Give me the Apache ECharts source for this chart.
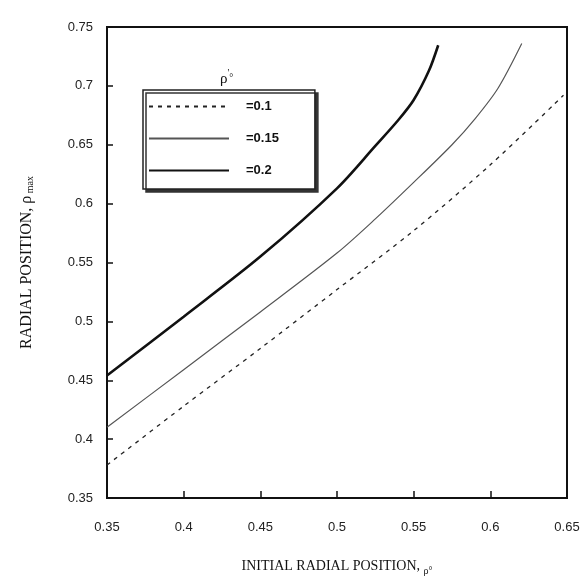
<!DOCTYPE html>
<html>
<head>
<meta charset="utf-8">
<script src="https://cdn.jsdelivr.net/npm/echarts@6/dist/echarts.min.js"></script>
<style>
  html, body { margin: 0; padding: 0; background: #fff; }
  #chart { width: 588px; height: 584px; }
</style>
</head>
<body>
<div id="chart"></div>
<script>
// 曲线数据 (初始位置, 径向位置)
const x01 = [0.35, 0.40, 0.45, 0.50, 0.55, 0.60, 0.6477]
const y01 = [0.378, 0.428, 0.477, 0.527, 0.577, 0.633, 0.692]

const x015 = [0.35, 0.40, 0.45, 0.50, 0.525, 0.55, 0.575, 0.59, 0.605, 0.6205]
const y015 = [0.410, 0.459, 0.508, 0.558, 0.587, 0.618, 0.650, 0.672, 0.698, 0.736]

const x02 = [0.35, 0.40, 0.45, 0.50, 0.525, 0.54, 0.55, 0.56, 0.566]
const y02 = [0.454, 0.504, 0.555, 0.613, 0.649, 0.671, 0.688, 0.713, 0.7345]

const seriesNames = ['=0.1', '=0.15', '=0.2']

const pair = (xs, ys) => xs.map((x, i) => [x, ys[i]])

const chart = echarts.init(document.getElementById('chart'))

const serif = '"Liberation Serif", "DejaVu Serif", serif'
const sans = '"Liberation Sans", Arial, sans-serif'

const option = {
  backgroundColor: '#fff',
  animation: false,
  grid: {
    left: 107, right: 21, top: 27, bottom: 86,
    show: true,
    borderColor: '#111',
    borderWidth: 2
  },
  legend: {
    orient: 'vertical',
    left: 143,
    top: 90,
    itemWidth: 80,
    itemHeight: 14,
    itemGap: 19,
    padding: [10, 36, 12, 5],
    borderColor: '#222',
    borderWidth: 1.5,
    backgroundColor: '#fff',
    shadowColor: '#333',
    shadowOffsetX: 3,
    shadowOffsetY: 3,
    shadowBlur: 0,
    itemStyle: { opacity: 0 },
    textStyle: { fontFamily: sans, fontSize: 13, fontWeight: 'bold', color: '#111', padding: [0, 0, 0, 12] },
    data: seriesNames
  },
  xAxis: {
    type: 'value',
    min: 0.35,
    max: 0.65,
    interval: 0.05,
    name: '{n|INITIAL RADIAL POSITION, }{s|ρ°}',
    nameLocation: 'middle',
    nameGap: 58,
    nameTextStyle: {
      rich: {
        n: { fontFamily: serif, fontSize: 14, color: '#111' },
        s: { fontFamily: serif, fontSize: 10, color: '#111', padding: [10, 0, 0, 0] }
      }
    },
    axisLine: { show: true, lineStyle: { color: '#111', width: 2 } },
    axisTick: { show: true, inside: true, length: 7, lineStyle: { color: '#111', width: 1.5 } },
    axisLabel: {
      margin: 23,
      fontFamily: sans,
      fontSize: 13,
      color: '#222',
      formatter: (v) => String(Math.round(v * 100) / 100)
    },
    splitLine: { show: false }
  },
  yAxis: {
    type: 'value',
    min: 0.35,
    max: 0.75,
    interval: 0.05,
    name: '{n|RADIAL POSITION, ρ}{s| max}',
    nameLocation: 'middle',
    nameGap: 72,
    nameTextStyle: {
      rich: {
        n: { fontFamily: serif, fontSize: 16, color: '#111' },
        s: { fontFamily: serif, fontSize: 10, color: '#111', padding: [6, 0, 0, 0] }
      }
    },
    axisLine: { show: true, lineStyle: { color: '#111', width: 2 } },
    axisTick: { show: true, inside: true, length: 6, lineStyle: { color: '#111', width: 1.5 } },
    axisLabel: {
      margin: 14,
      fontFamily: sans,
      fontSize: 13,
      color: '#222',
      formatter: (v) => String(Math.round(v * 100) / 100)
    },
    splitLine: { show: false }
  },
  graphic: [
    {
      type: 'text',
      left: 220,
      top: 68,
      style: {
        text: '{p|ρ}{q|\'}{o|°}',
        rich: {
          p: { fontFamily: serif, fontSize: 15, fill: '#111' },
          q: { fontFamily: serif, fontSize: 10, fill: '#111', padding: [0, 0, 12, 0] },
          o: { fontFamily: serif, fontSize: 10, fill: '#111', padding: [0, 0, 2, 0] }
        }
      }
    }
  ],
  series: [
    {
      name: seriesNames[0],
      type: 'line',
      smooth: 0.3,
      symbol: 'none',
      lineStyle: { color: '#222', width: 1.3, type: [4, 5] },
      itemStyle: { color: '#222' },
      data: pair(x01, y01)
    },
    {
      name: seriesNames[1],
      type: 'line',
      smooth: 0.3,
      symbol: 'none',
      lineStyle: { color: '#555', width: 1.2 },
      itemStyle: { color: '#555' },
      data: pair(x015, y015)
    },
    {
      name: seriesNames[2],
      type: 'line',
      smooth: 0.3,
      symbol: 'none',
      lineStyle: { color: '#111', width: 2.6 },
      itemStyle: { color: '#111' },
      data: pair(x02, y02)
    }
  ]
}

chart.setOption(option)

window.addEventListener('resize', () => { chart.resize() })
</script>
</body>
</html>
